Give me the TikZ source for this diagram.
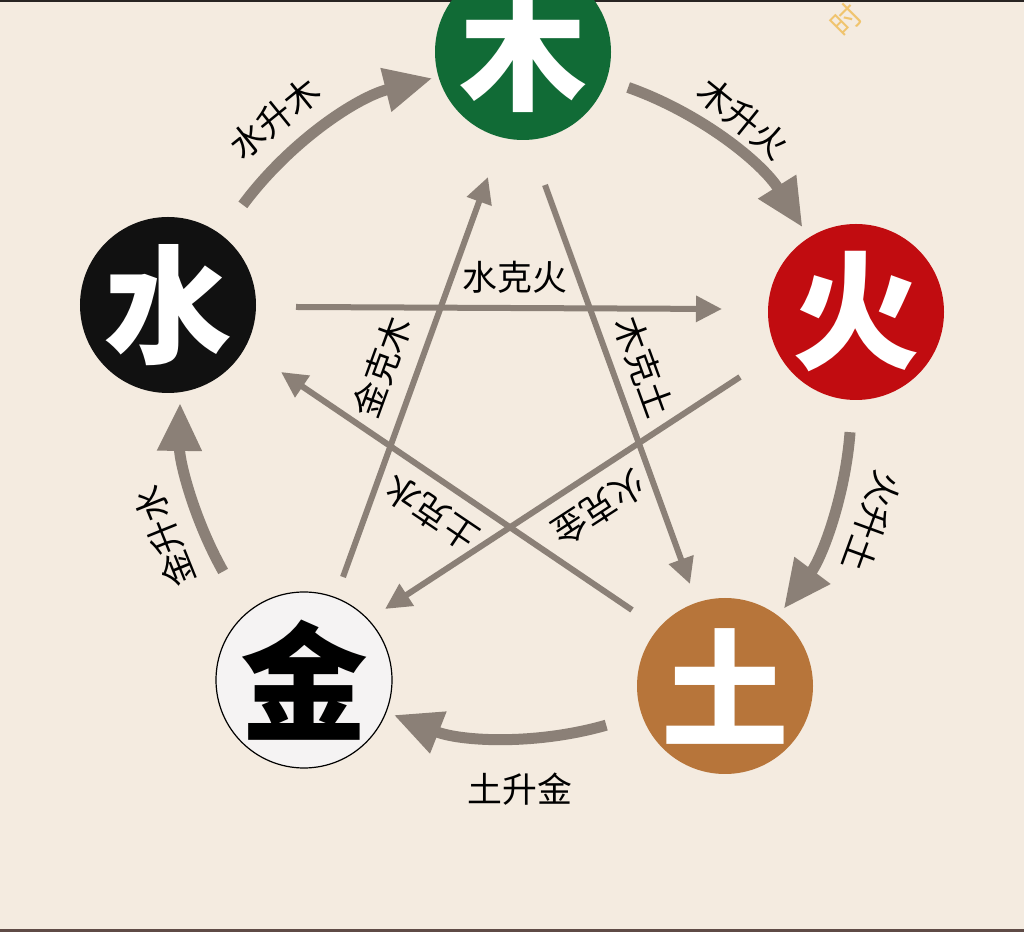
\documentclass[tikz,border=0pt]{standalone}
\usepackage{fontspec}
\usetikzlibrary{arrows.meta,calc}
\newfontfamily\cjk{Noto Sans CJK SC}
\definecolor{bg}{RGB}{244,235,224}
\definecolor{arr}{RGB}{139,128,119}
\definecolor{mugreen}{RGB}{17,107,54}
\definecolor{huored}{RGB}{193,12,16}
\definecolor{tubrown}{RGB}{183,117,58}
\definecolor{shuiblack}{RGB}{17,17,17}
\definecolor{jinwhite}{RGB}{245,243,243}
\definecolor{wmark}{RGB}{240,196,110}
\definecolor{topline}{RGB}{40,36,34}
\definecolor{botline}{RGB}{95,75,70}
\begin{document}
\begin{tikzpicture}[x=1bp,y=1bp,
  element/.style={circle, minimum size=176bp, inner sep=0pt,
    font=\cjk\bfseries\fontsize{128}{128}\selectfont},
  outerarrow/.style={draw=arr, line width=11bp, -{Triangle[length=48bp,width=42bp]}},
  innerarrow/.style={draw=arr, line width=6bp, -{Triangle[length=26bp,width=25bp]}},
  lbl/.style={font=\cjk\fontsize{35}{35}\selectfont, text=black, inner sep=0pt}]
\clip (0,0) rectangle (1024,932);
\fill[bg] (0,0) rectangle (1024,932);
\fill[topline] (0,929.5) rectangle (1024,932);
\fill[botline] (0,0) rectangle (1024,3);
\node[font=\cjk\fontsize{30}{30}\selectfont, text=wmark, rotate=45, inner sep=0pt] (wm) at (846,912) {时};

\coordinate (C) at (515,525);

% inner (ke) arrows
\coordinate (p1s) at (296,625); \coordinate (p1e) at (722,623);
\coordinate (p2s) at (545,747); \coordinate (p2e) at (690,348);
\coordinate (p3s) at (740,555); \coordinate (p3e) at (385,323);
\coordinate (p4s) at (632,322); \coordinate (p4e) at (281,560);
\coordinate (p5s) at (343,355); \coordinate (p5e) at (488,755);
\draw[innerarrow] (p1s) -- (p1e);
\draw[innerarrow] (p2s) -- (p2e);
\draw[innerarrow] (p3s) -- (p3e);
\draw[innerarrow] (p4s) -- (p4e);
\draw[innerarrow] (p5s) -- (p5e);

% outer (sheng) arrows
\coordinate (a1s) at ($(C)+(143.4:339)$);
\coordinate (a2s) at ($(C)+(70.5:339)$);
\coordinate (a3s) at ($(C)+(-4.3:336)$);
\coordinate (a4s) at ($(C)+(-74:331)$);
\coordinate (a5s) at ($(C)+(209.4:335)$);
\draw[outerarrow] (a1s) arc[start angle=143.4, end angle=104.1, radius=339];
\draw[outerarrow] (a2s) arc[start angle=70.5, end angle=32, radius=339];
\draw[outerarrow] (a3s) arc[start angle=-4.3, end angle=-36.9, radius=336];
\draw[outerarrow] (a4s) arc[start angle=-74, end angle=-111.5, radius=331];
\draw[outerarrow] (a5s) arc[start angle=209.4, end angle=179.3, radius=335];

% element circles
\node[element, fill=mugreen, text=white] (mu) at (523,880) {木};
\node[element, fill=huored, text=white] (huo) at (856,620) {火};
\node[element, fill=tubrown, text=white] (tu) at (725,246) {土};
\node[element, fill=jinwhite, draw=black, line width=1.2bp, text=black] (jin) at (304,252) {金};
\node[element, fill=shuiblack, text=white] (shui) at (168,627) {水};

% labels
\node[lbl, rotate=39] (l1) at (275,814) {水升木};
\node[lbl, rotate=-39] (l2) at (743,814) {木升火};
\node[lbl, rotate=-110] (l3) at (872,410) {火升土};
\node[lbl] (l4) at (520,143) {土升金};
\node[lbl, rotate=112] (l5) at (165,395) {金升水};
\node[lbl] (k1) at (515,655) {水克火};
\node[lbl, rotate=-70] (k2) at (644,565) {木克土};
\node[lbl, rotate=-147] (k3) at (599,424) {火克金};
\node[lbl, rotate=146] (k4) at (432,419) {土克水};
\node[lbl, rotate=70] (k5) at (382,565) {金克木};
\end{tikzpicture}
\end{document}
